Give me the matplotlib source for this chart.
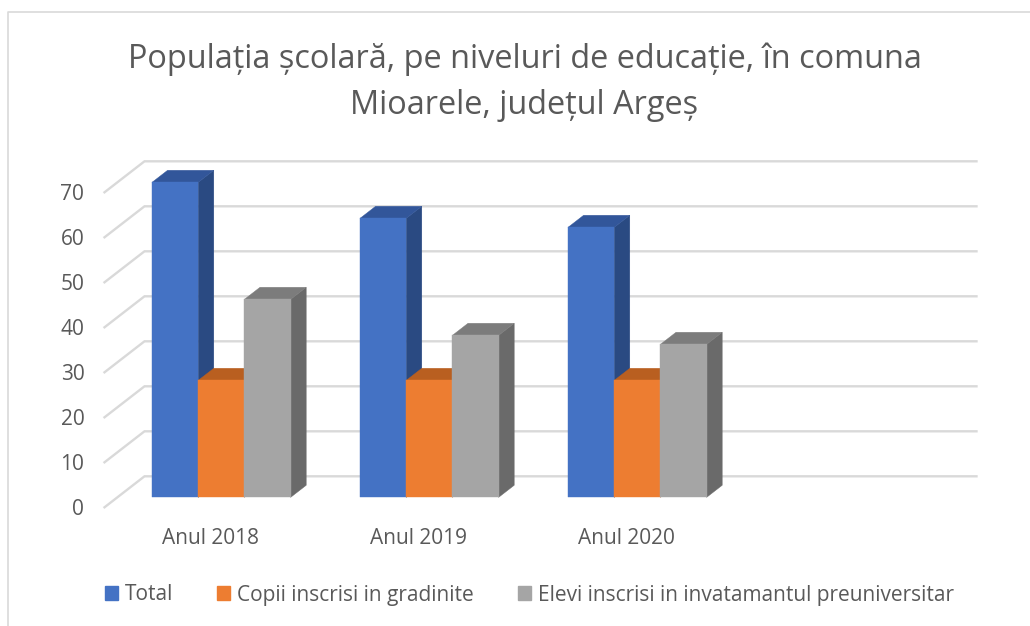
import matplotlib
matplotlib.use("Agg")
import matplotlib.pyplot as plt
from matplotlib.lines import Line2D
from matplotlib.patches import Polygon, Patch
from matplotlib.transforms import ScaledTranslation

plt.rcParams['font.family'] = ['Open Sans', 'DejaVu Sans']

title = "Populația școlară, pe niveluri de educație, în comuna\nMioarele, județul Argeș"
categories = ["Anul 2018", "Anul 2019", "Anul 2020", ""]
series_names = ["Total", "Copii inscrisi in gradinite", "Elevi inscrisi in invatamantul preuniversitar"]
total = [70, 62, 60]
copii = [26, 26, 26]
elevi = [44, 36, 34]
y_ticks = [0, 10, 20, 30, 40, 50, 60, 70]

front_colors = ["#4472C4", "#ED7D31", "#A5A5A5"]
side_colors = ["#2A4A82", "#AE5A22", "#6A6A6A"]
top_colors = ["#32569A", "#B95F20", "#7C7C7C"]
grid_color = "#D9D9D9"
text_color = "#595959"

W, H = 1030, 626
fig = plt.figure(figsize=(W / 100, H / 100), dpi=100)
L, R, B, T = 104.5, 936.5, 507.3, 192.3
ax = fig.add_axes([L / W, 1 - B / H, (R - L) / W, (B - T) / H])
ax.set_xlim(-0.5, 3.5)
ax.set_ylim(0, 70)
ax.patch.set_visible(False)
for s in ax.spines.values():
    s.set_visible(False)

px_x = (R - L) / 4
px_y = (B - T) / 70
DX = 40 / px_x
DY = 31 / px_y
def proj(x, v, d):
    return (x + d * DX, v + d * DY)

for v in y_ticks:
    a = proj(-0.5, v, 0)
    b = proj(-0.5, v, 1)
    c = proj(3.5, v, 1)
    ax.add_line(Line2D([a[0], b[0], c[0]], [a[1], b[1], c[1]], color=grid_color,
                       lw=1.7, clip_on=False, zorder=1, solid_joinstyle="miter"))

bar_w = 46.2 / px_x
d0, d1 = 0.32, 0.71
for i, vals in enumerate([total, copii, elevi]):
    for j, v in enumerate(vals):
        x0 = j - 1.5 * bar_w + i * bar_w
        x1 = x0 + bar_w
        faces = [
            ([proj(x1, 0, d0), proj(x1, 0, d1), proj(x1, v, d1), proj(x1, v, d0)], side_colors[i]),
            ([proj(x0, v, d0), proj(x1, v, d0), proj(x1, v, d1), proj(x0, v, d1)], top_colors[i]),
            ([proj(x0, 0, d0), proj(x1, 0, d0), proj(x1, v, d0), proj(x0, v, d0)], front_colors[i]),
        ]
        for pts, col in faces:
            ax.add_patch(Polygon(pts, closed=True, facecolor=col, edgecolor=col, lw=0.3,
                                 clip_on=False, zorder=2 + i))

ax.set_yticks(y_ticks)
ax.set_xticks(range(len(categories)))
ax.set_xticklabels(categories)
ax.tick_params(axis="both", length=0, colors=text_color, labelsize=15)
ax.tick_params(axis="y", pad=14.5)
ax.tick_params(axis="x", pad=15.2)
right = ScaledTranslation(1.5 / 100, 0, fig.dpi_scale_trans)
for lab in ax.get_xticklabels():
    lab.set_transform(lab.get_transform() + right)

fig.text(524.5 / W, 1 - 59 / H, title.split("\n")[0], ha="center", va="center", fontsize=23.4, color=text_color)
fig.text(524.5 / W, 1 - 106 / H, title.split("\n")[1], ha="center", va="center", fontsize=23.4, color=text_color)

handles = [Patch(facecolor=c, edgecolor=c) for c in front_colors]
fig.legend(handles, series_names, loc="center left", bbox_to_anchor=(105 / W, 1 - 595 / H), ncols=3,
           frameon=False, fontsize=15, labelcolor=text_color, handlelength=0.625, handleheight=0.625,
           handletextpad=0.336, columnspacing=2.1, borderpad=0, borderaxespad=0)

fig.add_artist(Line2D([8 / W, 8 / W, 1], [0, 1 - 11.5 / H, 1 - 11.5 / H], color=grid_color, lw=1.2,
                      transform=fig.transFigure))

fig.savefig("out.png", dpi=100, facecolor="white")
